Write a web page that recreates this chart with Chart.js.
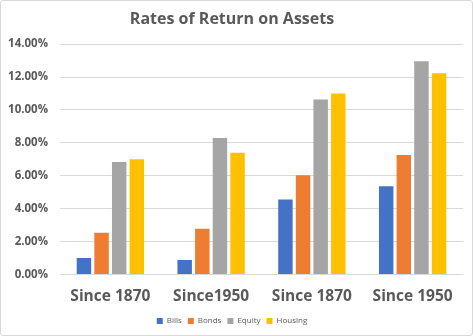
<!DOCTYPE html>
<html>
<head>
<meta charset="utf-8">
<script src="https://cdn.jsdelivr.net/npm/chart.js@4"></script>
<style>
html,body{margin:0;padding:0;background:#fff;}
#wrap{position:absolute;left:0;top:0;width:471px;height:334px;border:1px solid #d9d9d9;border-radius:3px;}
</style>
</head>
<body>
<div id="wrap"><canvas id="c" width="471" height="334"></canvas></div>
<script>
const categories = ["Since 1870", "Since1950", "Since 1870", "Since 1950"];
const bills   = [1.00, 0.88, 4.56, 5.36];
const bonds   = [2.53, 2.78, 6.03, 7.26];
const equity  = [6.83, 8.30, 10.63, 12.96];
const housing = [7.01, 7.40, 11.00, 12.23];
const seriesNames = ["Bills", "Bonds", "Equity", "Housing"];
const colors = ["#4472C4", "#ED7D31", "#A5A5A5", "#FFC000"];
const FONT = "'Open Sans', sans-serif";
const TXT = "#595959";

const data = {
  labels: categories,
  datasets: [bills, bonds, equity, housing].map((d, i) => ({
    label: seriesNames[i],
    data: d,
    backgroundColor: colors[i],
    categoryPercentage: 0.7,
    barPercentage: 0.82
  }))
};

new Chart(document.getElementById('c'), {
  type: 'bar',
  data: data,
  options: {
    responsive: false,
    animation: false,
    devicePixelRatio: 1,
    layout: { padding: { left: 0, right: 9, top: 7, bottom: 0 } },
    plugins: {
      title: {
        display: true,
        text: "Rates of Return on Assets",
        color: TXT,
        font: { family: FONT, size: 16, weight: 'bold' },
        padding: { top: 2, bottom: 15 }
      },
      legend: {
        position: 'bottom',
        labels: {
          color: TXT,
          font: { family: FONT, size: 8 },
          boxWidth: 6, boxHeight: 6,
          padding: 6
        }
      },
      tooltip: { enabled: false }
    },
    scales: {
      x: {
        grid: { display: false },
        border: { display: false },
        ticks: { color: TXT, font: { family: FONT, size: 15.5, weight: 'bold' }, padding: 5 }
      },
      y: {
        min: 0, max: 14,
        afterFit: s => { s.width = 59; },
        ticks: {
          stepSize: 2,
          color: TXT,
          font: { family: FONT, size: 11.5, weight: 'bold' },
          padding: 12,
          callback: v => v.toFixed(2) + "%"
        },
        grid: { color: "#d9d9d9", drawTicks: false },
        border: { display: false }
      }
    }
  }
});
</script>
</body>
</html>
